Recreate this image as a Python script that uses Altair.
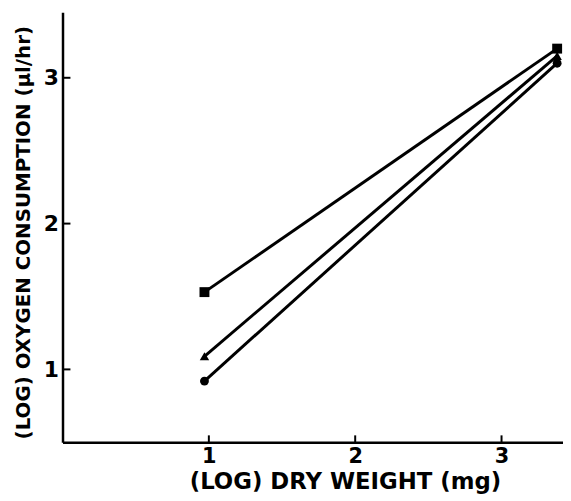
import altair as alt
import pandas as pd

# data
x_small = [0.97, 0.97, 0.97]
x_large = [3.38, 3.38, 3.38]
y_small = [1.53, 1.09, 0.92]
y_large = [3.20, 3.15, 3.10]
series = ["square", "triangle", "circle"]
x_ticks = [1, 2, 3]
y_ticks = [1, 2, 3]

rows = []
for s, xa, xb, ya, yb in zip(series, x_small, x_large, y_small, y_large):
    rows.append({"series": s, "x": xa, "y": ya})
    rows.append({"series": s, "x": xb, "y": yb})
df = pd.DataFrame(rows)

FONT = "DejaVu Sans"
W, H = 505, 434

xscale = alt.Scale(domain=[0, 3.42], nice=False, zero=False)
yscale = alt.Scale(domain=[0.5, 3.45], nice=False, zero=False)

xaxis = alt.Axis(values=x_ticks, format="d", ticks=False, grid=False, domainColor="black",
                 domainWidth=2.5, labelFont=FONT, labelFontSize=21, labelFontWeight="bold",
                 labelColor="black", labelPadding=3, title="(LOG) DRY WEIGHT (mg)",
                 titleFont=FONT, titleFontSize=23, titleFontWeight="bold", titleColor="black",
                 titleX=285, titleY=40, titleBaseline="middle", titleAlign="center")
yaxis = alt.Axis(values=y_ticks, format="d", ticks=False, grid=False, domainColor="black",
                 domainWidth=2.5, labelFont=FONT, labelFontSize=22, labelFontWeight="bold",
                 labelColor="black", labelPadding=4, title="(LOG) OXYGEN CONSUMPTION (\u00b5l/hr)",
                 titleFont=FONT, titleFontSize=20, titleFontWeight="bold", titleColor="black",
                 titleX=-39, titleY=222, titleAngle=270, titleBaseline="middle", titleAlign="center")

base = alt.Chart(df)

lines = base.mark_line(color="black", strokeWidth=3).encode(
    x=alt.X("x:Q", scale=xscale, axis=xaxis),
    y=alt.Y("y:Q", scale=yscale, axis=yaxis),
    detail="series:N",
)

points = base.mark_point(filled=True, color="black", opacity=1).encode(
    x=alt.X("x:Q", scale=xscale),
    y=alt.Y("y:Q", scale=yscale),
    shape=alt.Shape("series:N",
                    scale=alt.Scale(domain=series, range=["square", "triangle-up", "circle"]),
                    legend=None),
    size=alt.Size("series:N", scale=alt.Scale(domain=series, range=[100, 80, 90]), legend=None),
)

xt = pd.DataFrame({"v": x_ticks})
yt = pd.DataFrame({"v": y_ticks})
xtick_rules = alt.Chart(xt).mark_rule(color="black", strokeWidth=2).encode(
    x=alt.X("v:Q", scale=xscale), y=alt.value(H), y2=alt.value(H - 7))
ytick_rules = alt.Chart(yt).mark_rule(color="black", strokeWidth=2).encode(
    y=alt.Y("v:Q", scale=yscale), x=alt.value(0), x2=alt.value(8))

chart = alt.layer(lines, points, xtick_rules, ytick_rules).properties(
    width=W, height=H,
    autosize=alt.AutoSizeParams(type="none"),
    padding={"left": 55, "top": 2, "right": 0, "bottom": 55},
    background="white",
).configure_view(stroke=None)

chart.save("out.html", embed_options={"renderer": "svg", "actions": False})
